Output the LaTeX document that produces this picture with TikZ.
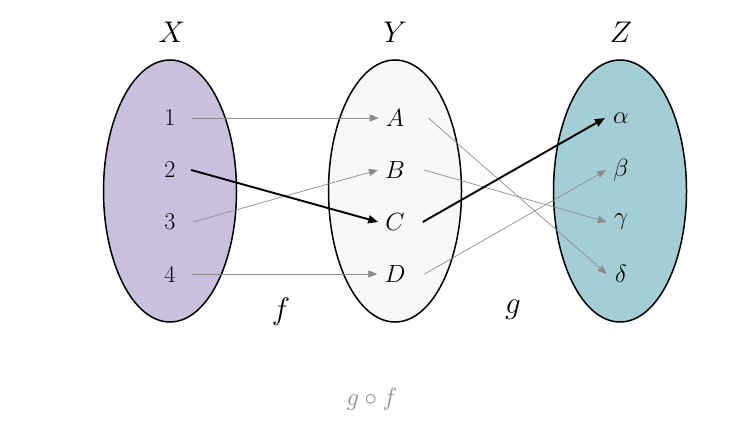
\documentclass[tikz,border=0pt]{standalone}
\usetikzlibrary{arrows.meta,shapes.geometric}
\definecolor{xfill}{RGB}{201,192,221}
\definecolor{yfill}{RGB}{248,248,248}
\definecolor{zfill}{RGB}{164,206,214}
\definecolor{thin}{RGB}{140,140,140}
\begin{document}
\begin{tikzpicture}[x=1pt,y=-1pt,
  setell/.style={draw=black,line width=1.5pt,ellipse,minimum width=133pt,minimum height=262pt,inner sep=0pt},
  elem/.style={font=\fontsize{24}{28}\selectfont,inner sep=0pt,minimum width=14pt,minimum height=14pt},
  setlab/.style={font=\fontsize{26}{30}\selectfont,scale=1.2},
  maplab/.style={font=\fontsize{26}{30}\selectfont,scale=1.25},
  thinarr/.style={draw=thin,line width=0.7pt,-{Triangle[length=9pt,width=7pt]}},
  thickarr/.style={draw=black,line width=1.9pt,-{Triangle[length=10pt,width=8pt]}}]
\useasboundingbox (0,0) rectangle (738,436);
\node[setell,fill=xfill] (EX) at (170,191) {};
\node[setell,fill=yfill] (EY) at (395,191) {};
\node[setell,fill=zfill] (EZ) at (620,191) {};
\node[setlab] (LX) at (172,32) {$X$};
\node[setlab] (LY) at (395,32) {$Y$};
\node[setlab] (LZ) at (621,32) {$Z$};
\node[elem] (n1) at (170,118) {1};
\node[elem] (n2) at (170,170) {2};
\node[elem] (n3) at (170,222) {3};
\node[elem] (n4) at (170,274) {4};
\node[elem] (A) at (395,118) {$A$};
\node[elem] (B) at (395,170) {$B$};
\node[elem] (C) at (395,222) {$C$};
\node[elem] (D) at (395,274) {$D$};
\node[elem] (al) at (621,118) {$\alpha$};
\node[elem] (be) at (621,170) {$\beta$};
\node[elem] (ga) at (621,222) {$\gamma$};
\node[elem] (de) at (621,274) {$\delta$};
\node[maplab] (f) at (281,312) {$f$};
\node[maplab] (g) at (513,310) {$g$};
\node[font=\fontsize{23}{26}\selectfont,text=thin] (gf) at (372,399) {$g\circ f$};
\draw[thinarr] ([xshift=15pt]n1.east) -- ([xshift=-7pt]A.west);
\draw[thinarr] ([xshift=16pt]n3.east) -- ([xshift=-7pt]B.west);
\draw[thinarr] ([xshift=15pt]n4.east) -- ([xshift=-7pt]D.west);
\draw[thickarr] ([xshift=14pt]n2.east) -- ([xshift=-7pt]C.west);
\draw[thinarr] ([xshift=24pt]A.east) -- ([xshift=-7pt]de.west);
\draw[thinarr] ([xshift=19pt]B.east) -- ([xshift=-7pt]ga.west);
\draw[thinarr] ([xshift=19pt]D.east) -- ([xshift=-7pt]be.west);
\draw[thickarr] ([xshift=18pt]C.east) -- ([xshift=-8pt]al.west);
\end{tikzpicture}
\end{document}
